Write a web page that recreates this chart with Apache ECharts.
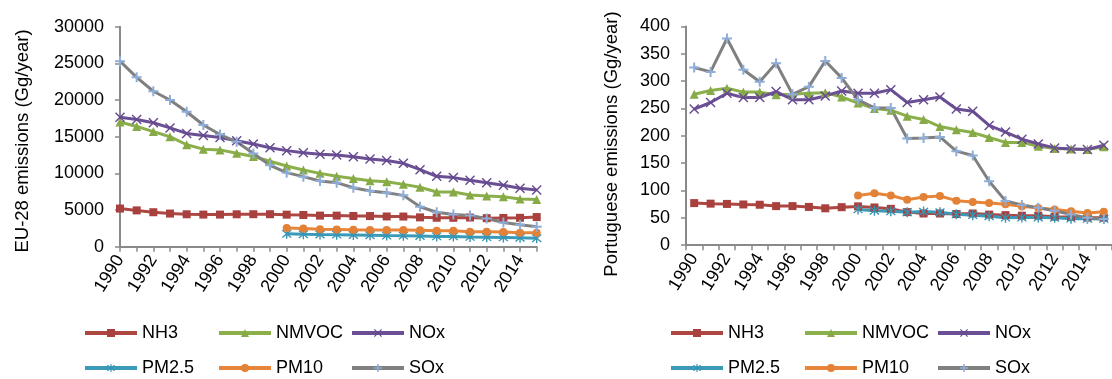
<!DOCTYPE html>
<html><head><meta charset="utf-8">
<script src="https://cdn.jsdelivr.net/npm/echarts@6/dist/echarts.min.js"></script>
<style>html,body{margin:0;padding:0;background:#fff}#c{width:1112px;height:379px}</style>
</head><body><div id="c"></div>
<script>
const years = ['1990','1991','1992','1993','1994','1995','1996','1997','1998','1999','2000','2001','2002','2003','2004','2005','2006','2007','2008','2009','2010','2011','2012','2013','2014','2015'];
const seriesNames = ['NH3','NMVOC','NOx','PM2.5','PM10','SOx'];

// EU-28 emissions (Gg/year)
const euNH3   = [5200,4950,4700,4520,4420,4380,4380,4420,4430,4430,4370,4320,4240,4240,4190,4180,4120,4110,4000,3950,3940,3980,3890,3920,3940,4040];
const euNMVOC = [17000,16400,15700,15000,13900,13300,13200,12750,12300,11650,11000,10450,10000,9600,9300,9000,8850,8500,8100,7450,7450,7050,6900,6800,6500,6450];
const euNOx   = [17650,17350,16900,16200,15450,15150,14900,14450,14000,13500,13100,12800,12600,12500,12270,11950,11750,11370,10500,9600,9420,9050,8730,8380,7960,7730];
const euPM25  = [1750,1700,1660,1640,1600,1560,1520,1500,1460,1400,1400,1330,1300,1270,1220,1150]; // from 2000
const euPM10  = [2550,2480,2380,2360,2320,2290,2270,2270,2250,2180,2180,2050,2050,2000,1910,1910]; // from 2000
const euSOx   = [25300,23100,21200,20000,18400,16600,15300,14300,12700,11100,10100,9550,8960,8730,8040,7600,7350,7000,5450,4700,4400,4250,3850,3300,3000,2730];

// Portuguese emissions (Gg/year)
const ptNH3   = [77,76,75.5,74.5,74,71.5,71.5,70,67.5,69.5,71,69,66.5,60.5,58,58,57,58,56,55,54,54,52,51.5,50.5,50];
const ptNMVOC = [276,283,287,280,280,275,276,278,279,271,260,250,247,236,230,217,211,206,197,188,188,181,177,176,175,180];
const ptNOx   = [249,261,278,270,270,281,266,266,273,282,278,278,284.5,261,266,271,249,245,219,207,194,185,178,176,175,183];
const ptPM25  = [65.5,63,62,60.3,61.5,60.3,56.5,55,53,50.3,50.5,50.5,50,48.5,48.2,48]; // from 2000
const ptPM10  = [91,95,91,83,88,90,81.5,79,77,75,71,68,65.5,62,59,61]; // from 2000
const ptSOx   = [325,317,378,321,299,333,276,290,337,306,266,251,251,195,196,198,172,164,117,81,73.5,68.5,63,56,50,48];

const euYTicks = {min:0, max:30000, interval:5000};
const ptYTicks = {min:0, max:400, interval:50};

const pad10 = a => Array(10).fill(null).concat(a);

const FONT = '"Liberation Sans", Arial, sans-serif';
const AX = '#898989';
const X_PATH = 'path://M1,0 L5,4 L9,0 L10,1 L6,5 L10,9 L9,10 L5,6 L1,10 L0,9 L4,5 L0,1 Z';
const PLUS_PATH = 'path://M4,0 H6 V4 H10 V6 H6 V10 H4 V6 H0 V4 H4 Z';
const AST_PATH = 'path://M1,0 L5,4 L9,0 L10,1 L6,5 L10,9 L9,10 L5,6 L1,10 L0,9 L4,5 L0,1 Z M4.3,-1 H5.7 V11 H4.3 Z';

const styles = {
  'NH3':   {line:'#AE4642', mark:'#A8403D', symbol:'rect', size:8},
  'NMVOC': {line:'#8BAF4B', mark:'#86AA45', symbol:'triangle', size:9},
  'NOx':   {line:'#6B4F94', mark:'#664A8F', symbol:X_PATH, size:10},
  'PM2.5': {line:'#3A9AB8', mark:'#3794B2', symbol:AST_PATH, size:10},
  'PM10':  {line:'#E7863B', mark:'#E38136', symbol:'circle', size:8},
  'SOx':   {line:'#808080', mark:'#8FADD9', symbol:PLUS_PATH, size:10}
};

function mk(name, data, idx) {
  const s = styles[name];
  return {
    name, type:'line', data, xAxisIndex:idx, yAxisIndex:idx,
    symbol:s.symbol, symbolSize:s.size, showAllSymbol:true, connectNulls:false,
    lineStyle:{color:s.line, width:3},
    itemStyle:{color:s.mark},
    emphasis:{disabled:true}
  };
}

const euData = [euNH3, euNMVOC, euNOx, pad10(euPM25), pad10(euPM10), euSOx];
const ptData = [ptNH3, ptNMVOC, ptNOx, pad10(ptPM25), pad10(ptPM10), ptSOx];
const series = [];
seriesNames.forEach((n,i)=>series.push(mk(n, euData[i], 0)));
seriesNames.forEach((n,i)=>series.push(mk(n, ptData[i], 1)));

const legendCols = [[83,217,350],[669,803,936]];
const legendRows = [333,368];
const legends = [];
[0,1].forEach(ch=>{
  seriesNames.forEach((n,i)=>{
    legends.push({
      data:[n], left:legendCols[ch][i%3], top:legendRows[Math.floor(i/3)]-9,
      padding:0, itemWidth:52, itemHeight:10, itemGap:0, selectedMode:false,
      lineStyle:{width:4},
      textStyle:{fontFamily:FONT, fontSize:18, color:'#000'}
    });
  });
});

function xAx(idx, gap) {
  return {
    type:'category', gridIndex:idx, data:years, boundaryGap:gap,
    axisLine:{lineStyle:{color:AX, width:2}},
    axisTick:{show:true, interval:0, length:5, lineStyle:{color:AX, width:1.5}},
    axisLabel:{interval:1, rotate:58, fontFamily:FONT, fontSize:18, color:'#000', margin:10},
    splitLine:{show:false}
  };
}
function yAx(idx, t) {
  return {
    type:'value', gridIndex:idx, min:t.min, max:t.max, interval:t.interval,
    axisLine:{show:true, lineStyle:{color:AX, width:2}},
    axisTick:{show:true, length:5, lineStyle:{color:AX, width:1.5}},
    axisLabel:{fontFamily:FONT, fontSize:18, color:'#000', margin:16, formatter:v=>String(v)},
    splitLine:{show:false}
  };
}

const option = {
  animation:false,
  backgroundColor:'#fff',
  grid:[
    {left:120, top:26.7, width:416.7, height:220},
    {left:686, top:26.5, width:434, height:218.7}
  ],
  xAxis:[xAx(0,false), xAx(1,true)],
  yAxis:[yAx(0,euYTicks), yAx(1,ptYTicks)],
  legend:legends,
  graphic:[
    {type:'text', x:23, y:141, rotation:Math.PI/2,
     style:{text:'EU-28 emissions (Gg/year)', font:'18.5px "Liberation Sans", Arial', fill:'#000',
            textAlign:'center', textVerticalAlign:'middle', align:'center', verticalAlign:'middle'}},
    {type:'text', x:612, y:144, rotation:Math.PI/2,
     style:{text:'Portuguese emissions (Gg/year)', font:'18.5px "Liberation Sans", Arial', fill:'#000',
            textAlign:'center', textVerticalAlign:'middle', align:'center', verticalAlign:'middle'}}
  ],
  series
};
const chart = echarts.init(document.getElementById('c'), null, {renderer:'canvas'});
chart.setOption(option);
</script></body></html>
